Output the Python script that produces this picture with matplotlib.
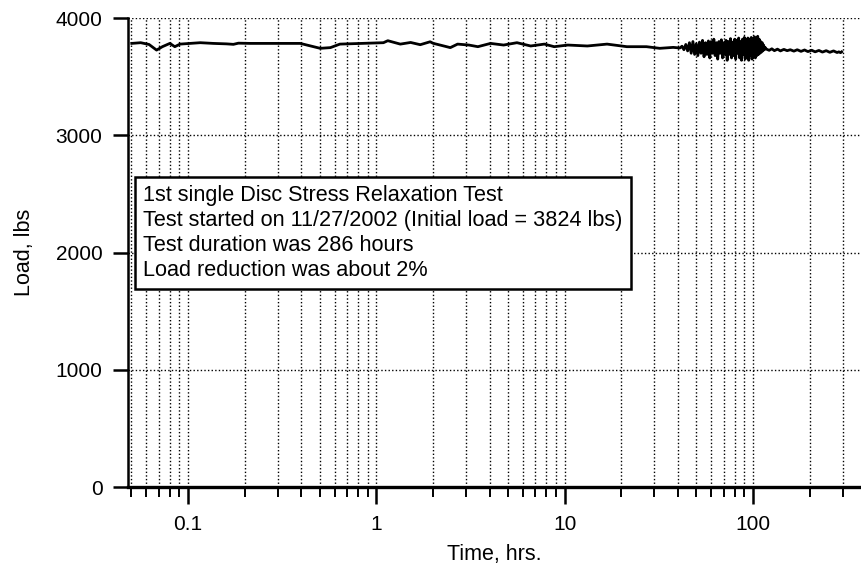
import matplotlib
matplotlib.use("Agg")
import matplotlib.pyplot as plt
from matplotlib.ticker import LogLocator, NullFormatter, FixedLocator, FixedFormatter

plt.rcParams['font.family'] = ['Liberation Sans', 'DejaVu Sans']

# ---- data (time in hours, load in lbs) ----
time_early = [0.0502, 0.056, 0.062, 0.068, 0.073, 0.080, 0.085, 0.0906, 0.1025, 0.116,
              0.136, 0.160, 0.174, 0.185, 0.214, 0.30, 0.394, 0.428, 0.503, 0.57,
              0.64, 0.82, 1.09, 1.15, 1.34, 1.52, 1.71, 1.93, 2.0, 2.37,
              2.47, 2.7, 3.1, 3.46, 4.04, 4.74, 5.58, 6.6, 7.8, 8.8,
              10.4, 13.2, 16.8, 21.4, 27.2, 32.0, 37.7, 41.0]
load_early = [3784, 3790, 3775, 3727, 3756, 3784, 3756, 3778, 3784, 3790,
              3784, 3780, 3776, 3786, 3784, 3784, 3784, 3770, 3742, 3748,
              3778, 3784, 3790, 3807, 3778, 3792, 3773, 3798, 3785, 3756,
              3748, 3778, 3770, 3756, 3784, 3770, 3790, 3762, 3778, 3756,
              3770, 3762, 3778, 3756, 3756, 3742, 3750, 3745]

time_noisy = [42, 43, 44, 45, 46, 47, 48, 49, 50, 51, 52, 53, 54, 55, 56, 57, 58, 59,
              60, 61, 62, 63, 64, 65, 66, 67, 68, 69, 70, 71, 72, 73, 74, 75, 76, 77,
              78, 79, 80, 81, 82, 83, 84, 85, 86, 87, 88, 89, 90, 91, 92, 93, 94, 95,
              96, 97, 98, 99, 100, 101, 102, 103, 104, 105, 106, 107, 108, 109, 110,
              111, 112, 113, 114, 115, 116]
load_noisy = [3760, 3730, 3775, 3720, 3790, 3700, 3800, 3690, 3780, 3680, 3795, 3700,
              3810, 3670, 3790, 3690, 3805, 3660, 3800, 3700, 3820, 3680, 3790, 3650,
              3800, 3700, 3815, 3660, 3790, 3690, 3810, 3640, 3800, 3690, 3825, 3660,
              3795, 3680, 3820, 3650, 3810, 3700, 3830, 3660, 3800, 3640, 3820, 3690,
              3835, 3650, 3810, 3670, 3830, 3640, 3820, 3680, 3835, 3650, 3815, 3670,
              3840, 3660, 3825, 3680, 3845, 3690, 3820, 3700, 3800, 3710, 3790, 3720,
              3770, 3730, 3750]

time_late = [118, 122, 126, 130, 135, 140, 146, 152, 158, 165, 172, 180, 188, 196,
             205, 214, 224, 234, 245, 256, 268, 280, 286, 292, 296]
load_late = [3735, 3725, 3738, 3722, 3735, 3720, 3733, 3722, 3730, 3718, 3730, 3716,
             3728, 3714, 3726, 3712, 3724, 3710, 3722, 3708, 3720, 3706, 3712, 3705, 3712]

y_ticks = [0, 1000, 2000, 3000, 4000]
x_major = [0.1, 1, 10, 100]
x_major_labels = ["0.1", "1", "10", "100"]

box_lines = ["1st single Disc Stress Relaxation Test",
             "Test started on 11/27/2002 (Initial load = 3824 lbs)",
             "Test duration was 286 hours",
             "Load reduction was about 2%"]

# ---- figure ----
fig = plt.figure(figsize=(8.61, 5.65), dpi=100)
ax = fig.add_axes([0.1481, 0.138, 0.8519, 0.830])

t_all = time_early + time_noisy + time_late
l_all = load_early + load_noisy + load_late
ax.plot(t_all, l_all, color='black', lw=2.0, zorder=3)

ax.set_xscale('log')
ax.set_xlim(0.04766, 375)
ax.set_ylim(0, 4000)

ax.xaxis.set_major_locator(FixedLocator(x_major))
ax.xaxis.set_major_formatter(FixedFormatter(x_major_labels))
ax.xaxis.set_minor_locator(LogLocator(base=10, subs=[2, 3, 4, 5, 6, 7, 8, 9], numticks=20))
ax.xaxis.set_minor_formatter(NullFormatter())
ax.set_yticks(y_ticks)

ax.grid(True, which='both', axis='x', color='black', linestyle=(0, (1, 1.6)), lw=1.0)
ax.grid(True, which='major', axis='y', color='black', linestyle=(0, (1, 1.6)), lw=1.0)

for s in ['top', 'right']:
    ax.spines[s].set_visible(False)
ax.spines['left'].set_linewidth(1.8)
ax.spines['bottom'].set_linewidth(2.4)

ax.tick_params(axis='x', which='major', direction='out', length=12, width=1.8,
               labelsize=15, pad=8)
ax.tick_params(axis='x', which='minor', direction='out', length=7, width=1.4)
ax.tick_params(axis='y', which='major', direction='out', length=11, width=1.8,
               labelsize=15, pad=7)

ax.set_xlabel("Time, hrs.", fontsize=15.5, labelpad=7)
ax.set_ylabel("Load, lbs", fontsize=15.5, labelpad=15)

ax.text(0.0211, 0.643, "\n".join(box_lines), transform=ax.transAxes,
        fontsize=15.6, va='top', ha='left', linespacing=1.24, zorder=5,
        bbox=dict(boxstyle='square,pad=0.38', facecolor='white',
                  edgecolor='black', linewidth=1.8))

fig.savefig("out.png", dpi=100)
